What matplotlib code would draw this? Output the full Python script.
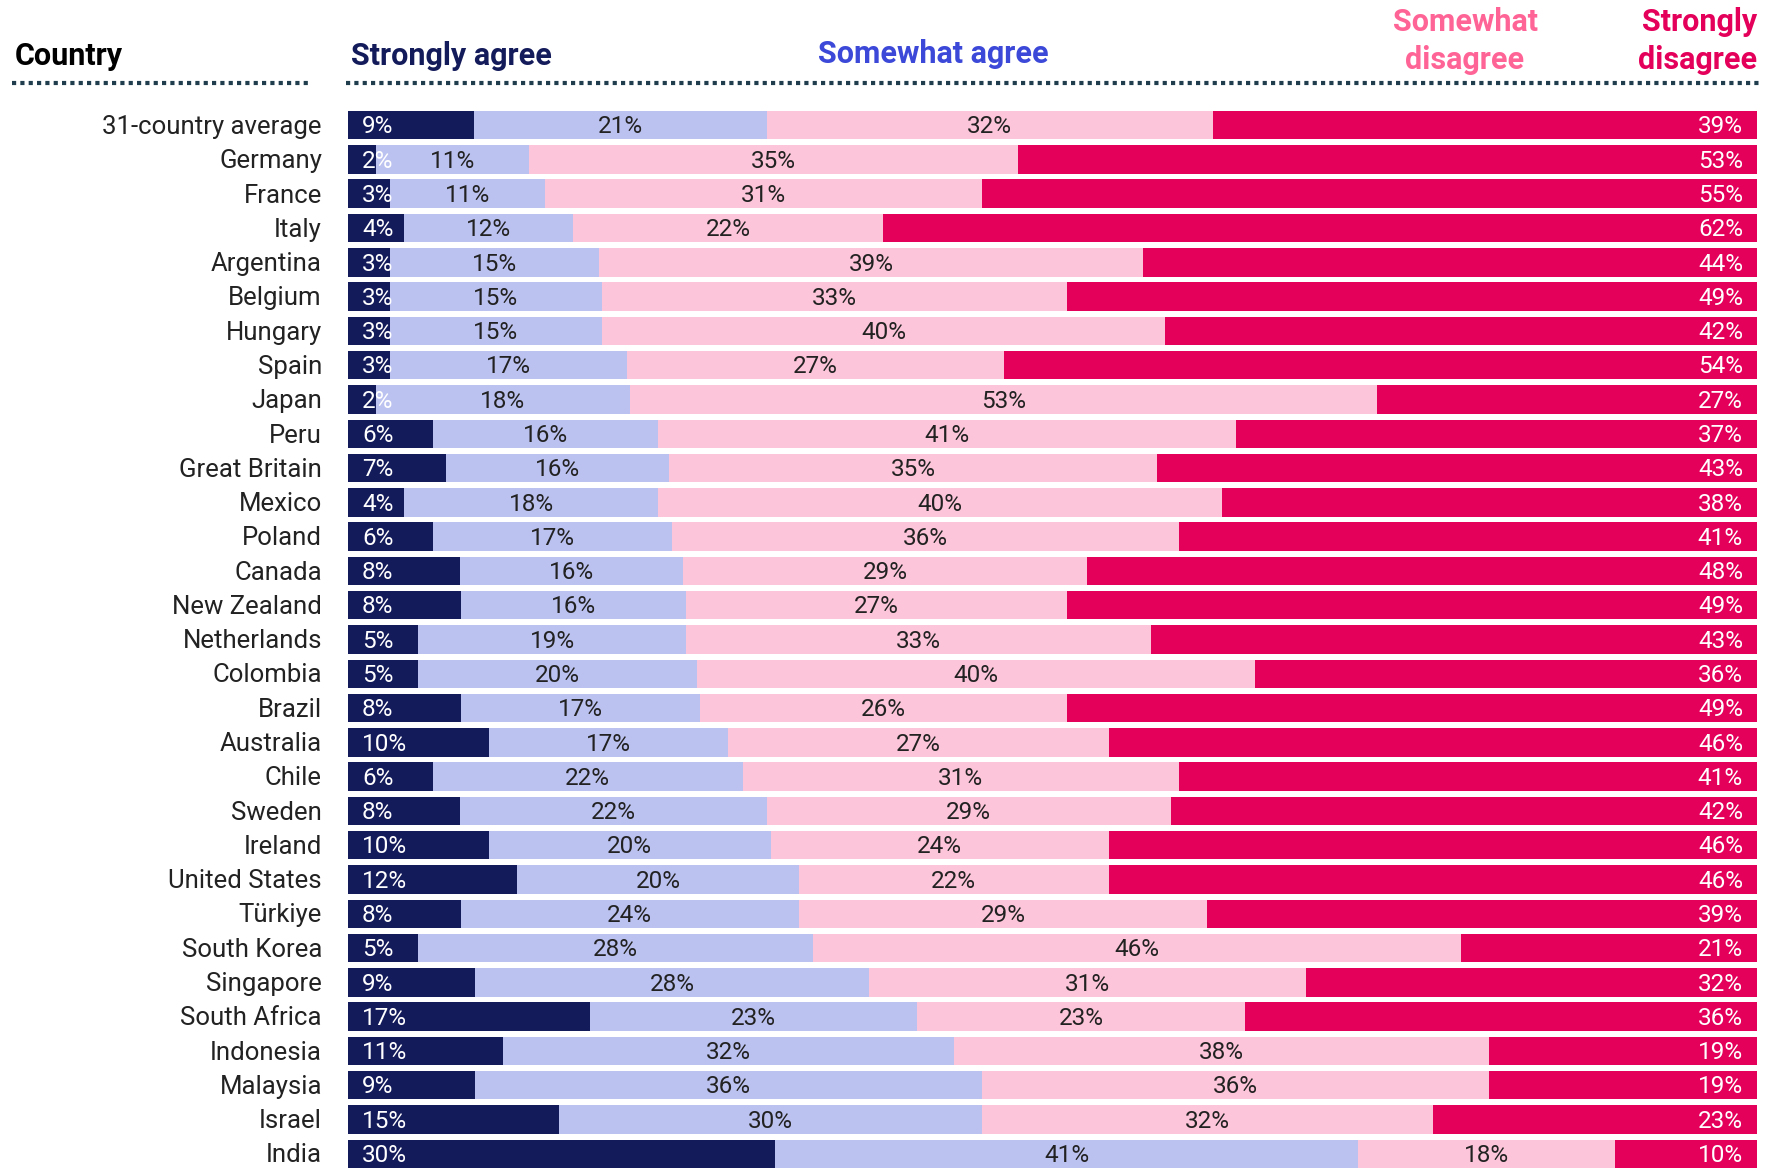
import numpy as np
import matplotlib
matplotlib.use("Agg")
import matplotlib.pyplot as plt

plt.rcParams['font.family'] = ['Roboto', 'DejaVu Sans']

countries = ["31-country average", "Germany", "France", "Italy", "Argentina", "Belgium",
             "Hungary", "Spain", "Japan", "Peru", "Great Britain", "Mexico", "Poland",
             "Canada", "New Zealand", "Netherlands", "Colombia", "Brazil", "Australia",
             "Chile", "Sweden", "Ireland", "United States", "Türkiye", "South Korea",
             "Singapore", "South Africa", "Indonesia", "Malaysia", "Israel", "India"]
strongly_agree = [9, 2, 3, 4, 3, 3, 3, 3, 2, 6, 7, 4, 6, 8, 8, 5, 5, 8, 10, 6, 8, 10, 12, 8, 5, 9, 17, 11, 9, 15, 30]
somewhat_agree = [21, 11, 11, 12, 15, 15, 15, 17, 18, 16, 16, 18, 17, 16, 16, 19, 20, 17, 17, 22, 22, 20, 20, 24, 28, 28, 23, 32, 36, 30, 41]
somewhat_disagree = [32, 35, 31, 22, 39, 33, 40, 27, 53, 41, 35, 40, 36, 29, 27, 33, 40, 26, 27, 31, 29, 24, 22, 29, 46, 31, 23, 38, 36, 32, 18]
strongly_disagree = [39, 53, 55, 62, 44, 49, 42, 54, 27, 37, 43, 38, 41, 48, 49, 43, 36, 49, 46, 41, 42, 46, 46, 39, 21, 32, 36, 19, 19, 23, 10]

C_SA = "#141b5b"
C_A = "#bcc2f0"
C_D = "#fdc5d9"
C_SD = "#e4005a"

W, H = 1788, 1168
fig = plt.figure(figsize=(W / 100, H / 100), dpi=100)
fig.patch.set_facecolor("white")

n = len(countries)
bar_h = 0.83
ax = fig.add_axes([348 / W, 0, (1757 - 348) / W, (H - 108) / H])
ax.set_xlim(0, 100)
ax.set_ylim(n - 1 + bar_h / 2, -0.5)
ax.axis("off")

vals = np.array([strongly_agree, somewhat_agree, somewhat_disagree, strongly_disagree], dtype=float)
norm = vals / vals.sum(axis=0) * 100
y = np.arange(n)
colors = [C_SA, C_A, C_D, C_SD]
left = np.zeros(n)
for k in range(4):
    ax.barh(y, norm[k], left=left, height=bar_h, color=colors[k], edgecolor="none")
    for i in range(n):
        txt = f"{int(vals[k, i])}%"
        if k == 0:
            ax.text(1.0, i + 0.05, txt, ha="left", va="center", color="white", fontsize=17.5)
        elif k == 3:
            ax.text(99.0, i + 0.05, txt, ha="right", va="center", color="white", fontsize=17.5)
        else:
            ax.text(left[i] + norm[k, i] / 2, i + 0.05, txt, ha="center", va="center",
                    color="#222222", fontsize=17.5)
    left += norm[k]

for i, c in enumerate(countries):
    fig.text(322 / W, 1 - (127 + i * 34.28) / H, c, ha="right", va="center",
             fontsize=18.5, color="#222222")

# headers
hfs = 22
fig.text(15 / W, 1 - 56 / H, "Country", ha="left", va="center", fontsize=hfs,
         fontweight="bold", color="black")
fig.text(351 / W, 1 - 56 / H, "Strongly agree", ha="left", va="center", fontsize=hfs,
         fontweight="bold", color=C_SA)
fig.text(933 / W, 1 - 54 / H, "Somewhat agree", ha="center", va="center", fontsize=hfs,
         fontweight="bold", color="#3b48d8")
fig.text(1465 / W, 1 - 41 / H, "Somewhat\ndisagree", ha="center", va="center", fontsize=hfs,
         fontweight="bold", color="#ff6497", linespacing=1.3)
fig.text(1757 / W, 1 - 41 / H, "Strongly\ndisagree", ha="right", va="center", fontsize=hfs,
         fontweight="bold", color=C_SD, linespacing=1.3)

# dotted header rules
fig.add_artist(plt.Line2D([12 / W, 310 / W], [1 - 83 / H] * 2, color="#1f3d4d",
                          linestyle=(0, (1, 1)), linewidth=3))
fig.add_artist(plt.Line2D([346 / W, 1762 / W], [1 - 83 / H] * 2, color="#1f3d4d",
                          linestyle=(0, (1, 1)), linewidth=3))

fig.savefig("out.png", dpi=100)
